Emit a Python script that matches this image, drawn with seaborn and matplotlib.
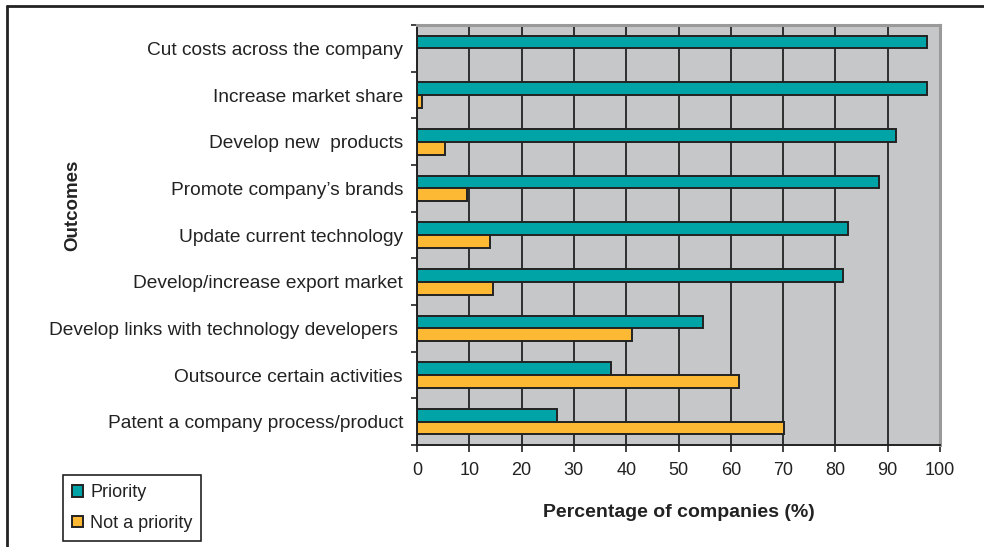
import matplotlib
matplotlib.use("Agg")
import matplotlib.pyplot as plt
from matplotlib.lines import Line2D
from matplotlib.ticker import FixedLocator
import seaborn as sns
import pandas as pd

outcomes = [
    "Cut costs across the company",
    "Increase market share",
    "Develop new  products",
    "Promote company\u2019s brands",
    "Update current technology",
    "Develop/increase export market",
    "Develop links with technology developers ",
    "Outsource certain activities",
    "Patent a company process/product",
]
priority = [97.6, 97.6, 91.6, 88.3, 82.4, 81.4, 54.7, 37.0, 26.8]
not_priority = [0.0, 1.0, 5.3, 9.6, 13.9, 14.5, 41.2, 61.6, 70.2]
series_names = ["Priority", "Not a priority"]
x_ticks = list(range(0, 101, 10))

df = pd.DataFrame({
    "Outcome": outcomes * 2,
    "Percent": priority + not_priority,
    "Status": [series_names[0]] * len(outcomes) + [series_names[1]] * len(outcomes),
})

sns.set_theme(style="white")
plt.rcParams["font.family"] = ["Liberation Sans", "DejaVu Sans"]

fig = plt.figure(figsize=(9.84, 5.47), dpi=100)
ax = fig.add_axes([417 / 984, 1 - 445 / 547, (940 - 417) / 984, (445 - 25) / 547])
ax.set_facecolor("#C6C7C9")

sns.barplot(
    data=df, x="Percent", y="Outcome", hue="Status",
    order=outcomes, hue_order=series_names,
    palette=["#00A3A6", "#FDB933"], saturation=1, orient="h",
    width=0.55, edgecolor="#222222", linewidth=1.4,
    errorbar=None, ax=ax,
)

ax.set_xlim(0, 100)
ax.set_ylim(len(outcomes) - 0.5, -0.5)
ax.set_axisbelow(True)
ax.xaxis.set_major_locator(FixedLocator(x_ticks))
ax.grid(axis="x", color="#222222", linewidth=1.3)
ax.grid(axis="y", visible=False)

# x ticks outward, y ticks only at category boundaries
ax.tick_params(axis="x", direction="out", length=5, width=1.2, color="#222222",
               bottom=True, labelsize=13, pad=7, labelcolor="#222222")
ax.tick_params(axis="y", which="major", length=0, pad=10, labelsize=13.8,
               labelcolor="#222222")
ax.yaxis.set_minor_locator(FixedLocator([i - 0.5 for i in range(len(outcomes) + 1)]))
ax.tick_params(axis="y", which="minor", direction="out", length=4, width=1.2,
               color="#222222", left=True)

for side in ("left", "bottom"):
    ax.spines[side].set_color("#222222")
    ax.spines[side].set_linewidth(1.4)
for side in ("top", "right"):
    ax.spines[side].set_color("#9A9A9A")
    ax.spines[side].set_linewidth(2.2)

ax.set_xlabel("Percentage of companies (%)", fontsize=14, fontweight="bold",
              color="#222222", labelpad=18)
ax.set_ylabel("")
fig.text(73 / 984, 1 - 205 / 547, "Outcomes", rotation=90, fontsize=13.5,
         fontweight="bold", color="#222222", ha="center", va="center")

handles, labels = ax.get_legend_handles_labels()
ax.get_legend().remove()
leg = fig.legend(handles, labels, loc="lower left",
                 bbox_to_anchor=(63 / 984, 1 - 541 / 547),
                 fontsize=13, frameon=True, fancybox=False, framealpha=1,
                 edgecolor="#222222", handlelength=0.6, handleheight=0.6,
                 handletextpad=0.4, labelspacing=0.75, borderpad=0.5,
                 borderaxespad=0)
leg.get_frame().set_linewidth(1.2)
for t in leg.get_texts():
    t.set_color("#222222")

# outer frame of the figure panel
fig.add_artist(Line2D([7 / 984, 1], [1 - 6 / 547, 1 - 6 / 547],
                      transform=fig.transFigure, color="#222222", linewidth=2))
fig.add_artist(Line2D([7 / 984, 7 / 984], [0, 1 - 6 / 547],
                      transform=fig.transFigure, color="#222222", linewidth=2))

fig.savefig("out.png", dpi=100, facecolor="white")
